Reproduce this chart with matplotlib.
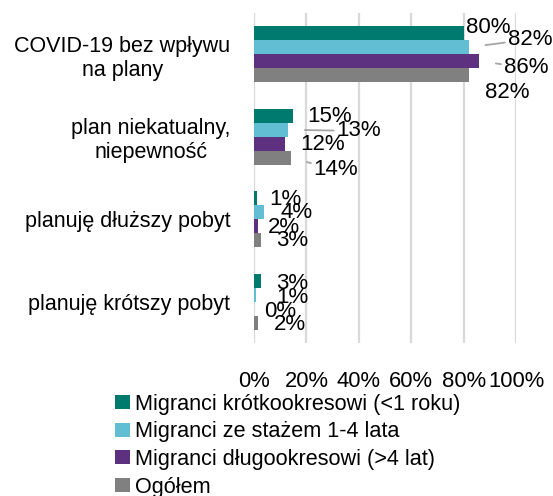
import numpy as np
import matplotlib
matplotlib.use("Agg")
import matplotlib.pyplot as plt

plt.rcParams['font.family'] = ['Liberation Sans', 'DejaVu Sans']

kategorie = ["COVID-19 bez wpływu\nna plany", "plan niekatualny,\nniepewność",
             "planuję dłuższy pobyt", "planuję krótszy pobyt"]
serie = ["Migranci krótkookresowi (<1 roku)", "Migranci ze stażem 1-4 lata",
         "Migranci długookresowi (>4 lat)", "Ogółem"]
kolory = ["#007A6E", "#62BED3", "#5E3180", "#808080"]

# wartosci w % (kolejne kategorie)
krotko = [80, 15, 1.0, 2.7]
staz = [82, 13, 3.9, 0.6]
dlugo = [86, 12, 1.5, 0.0]
ogolem = [82, 14, 2.6, 1.6]
wartosci = [krotko, staz, dlugo, ogolem]

# polozenie etykiet danych (x w %, y w jednostkach kategorii), jak w oryginale
etyk_x = [[89.3, 29.0, 11.8, 14.5],
          [105.3, 40.0, 16.4, 14.5],
          [103.8, 26.0, 11.5, 10.0],
          [96.5, 31.3, 14.5, 13.7]]
etyk_y = [[-0.33, 0.757, 1.76, 2.78],
          [-0.18, 0.93, 1.92, 2.95],
          [0.16, 1.10, 2.10, 3.12],
          [0.46, 1.40, 2.26, 3.28]]
# ktore etykiety maja linie odniesienia
linie = [(1, 0), (2, 0), (1, 1), (3, 1)]

fig = plt.figure(figsize=(5.53, 4.96), dpi=100)
ax = fig.add_axes([254/553, 1-343/496, (516-254)/553, (343-13)/496])

y = np.arange(len(kategorie))
h = 0.17
for i, (vals, kol, nazwa) in enumerate(zip(wartosci, kolory, serie)):
    ax.barh(y + (i-1.5)*h, vals, height=h, color=kol, label=nazwa, zorder=3)

for i in range(4):
    for j in range(4):
        v = wartosci[i][j]
        tekst = "{:.0f}%".format(v)
        if (i, j) in linie:
            ax.annotate(tekst, xy=(v, y[j] + (i-1.5)*h), xytext=(etyk_x[i][j], etyk_y[i][j]),
                        ha='center', va='center', fontsize=16,
                        arrowprops=dict(arrowstyle='-', color='#A6A6A6', lw=1.3,
                                        shrinkA=0, shrinkB=12), zorder=5)
        else:
            ax.text(etyk_x[i][j], etyk_y[i][j], tekst, ha='center', va='center',
                    fontsize=16, zorder=5)

ax.set_xlim(0, 100)
ax.set_ylim(3.5, -0.5)
ax.set_xticks(np.arange(0, 101, 20))
ax.set_xticklabels(["{}%".format(t) for t in range(0, 101, 20)])
ax.set_yticks(y)
ax.set_yticklabels(kategorie, multialignment='center')
ax.tick_params(axis='both', length=0, labelsize=15.8)
ax.tick_params(axis='y', labelsize=15.5, pad=17)
ax.tick_params(axis='x', pad=20)
ax.xaxis.grid(True, color='#D9D9D9', lw=1.6, zorder=0)
for s in ax.spines.values():
    s.set_visible(False)

fig.legend(loc='upper left', bbox_to_anchor=(115/553, 1-394/496), frameon=False,
           fontsize=15.6, handlelength=0.69, handleheight=0.6, handletextpad=0.23,
           labelspacing=0.3, borderpad=0, borderaxespad=0)

fig.savefig("out.png", dpi=100)
